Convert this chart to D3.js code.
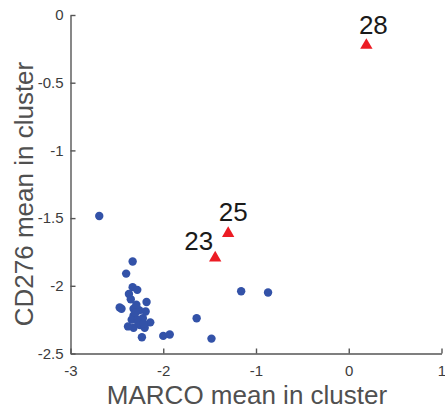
<!DOCTYPE html>
<html>
<head>
<meta charset="utf-8">
<script src="https://cdn.jsdelivr.net/npm/d3@7/dist/d3.min.js"></script>
<style>
  html, body { margin: 0; padding: 0; background: #fff; }
  svg { display: block; font-family: "Liberation Sans", Arial, Helvetica, sans-serif; }
</style>
</head>
<body>
<svg id="chart" width="445" height="410"></svg>
<script>
// Per-cluster mean expression: MARCO (x) vs CD276 (y)
const clusterMarco = [
  -2.69, -2.33, -2.40, -2.33, -2.28, -2.37, -2.35, -2.18, -2.45, -2.47,
  -2.32, -2.26, -2.32, -2.34, -2.22, -2.14, -2.25, -2.32, -2.20, -2.23,
  -2.00, -1.93, -1.64, -1.48, -1.16, -0.87, -2.28, -2.38, -2.19, -2.29,
  -2.27, -2.30, -2.21
];
const clusterCd276 = [
  -1.485, -1.82, -1.91, -2.01, -2.03, -2.06, -2.10, -2.12, -2.17, -2.16,
  -2.17, -2.18, -2.22, -2.25, -2.24, -2.27, -2.29, -2.31, -2.31, -2.38,
  -2.37, -2.36, -2.24, -2.39, -2.04, -2.05, -2.25, -2.30, -2.19, -2.14,
  -2.27, -2.20, -2.28
];

// Highlighted clusters
const highlightIds = ["28", "25", "23"];
const highlightMarco = [0.19, -1.30, -1.44];
const highlightCd276 = [-0.22, -1.61, -1.79];

// Axis ticks
const xTicks = [-3, -2, -1, 0, 1];
const xTickLabels = ["-3", "-2", "-1", "0", "1"];
const yTicks = [0, -0.5, -1, -1.5, -2, -2.5];
const yTickLabels = ["0", "-0.5", "-1", "-1.5", "-2", "-2.5"];

const xTitle = "MARCO mean in cluster";
const yTitle = "CD276 mean in cluster";

// ---- layout ----
const plot = { left: 70.5, right: 441.5, top: 15, bottom: 353.5 };
const axisColor = "#555555";
const tickTextColor = "#3c3c3c";
const titleColor = "#505050";
const dotColor = "#3352a8";
const triColor = "#ec1c24";

const svg = d3.select("#chart");

const x = d3.scaleLinear().domain([-3, 1]).range([plot.left, plot.right]);
const y = d3.scaleLinear().domain([-2.5, 0]).range([plot.bottom, plot.top]);

// x axis (ticks pointing inward)
const xAxis = d3.axisBottom(x)
  .tickValues(xTicks)
  .tickFormat((d, i) => xTickLabels[i])
  .tickSizeInner(-5)
  .tickSizeOuter(0)
  .tickPadding(12);

const gx = svg.append("g")
  .attr("transform", `translate(0,${plot.bottom})`)
  .call(xAxis);

// y axis (ticks pointing inward)
const yAxis = d3.axisLeft(y)
  .tickValues(yTicks)
  .tickFormat((d, i) => yTickLabels[i])
  .tickSizeInner(-5)
  .tickSizeOuter(0)
  .tickPadding(7);

const gy = svg.append("g")
  .attr("transform", `translate(${plot.left},0)`)
  .call(yAxis);

[gx, gy].forEach(g => {
  g.select(".domain").attr("stroke", axisColor).attr("stroke-width", 1.4);
  g.selectAll(".tick line").attr("stroke", axisColor).attr("stroke-width", 1.4);
  g.selectAll(".tick text")
    .attr("fill", tickTextColor)
    .style("font-size", "15px")
    .style("font-family", "'Liberation Sans', Arial, sans-serif");
});

// axis titles
svg.append("text")
  .attr("x", 247)
  .attr("y", 404)
  .attr("text-anchor", "middle")
  .attr("fill", titleColor)
  .style("font-size", "26px")
  .text(xTitle);

svg.append("text")
  .attr("transform", "translate(33,194) rotate(-90)")
  .attr("text-anchor", "middle")
  .attr("fill", titleColor)
  .style("font-size", "26px")
  .text(yTitle);

// cluster points
const points = clusterMarco.map((m, i) => ({ m, c: clusterCd276[i] }));
svg.append("g")
  .selectAll("circle")
  .data(points)
  .join("circle")
  .attr("cx", d => x(d.m))
  .attr("cy", d => y(d.c))
  .attr("r", 4.2)
  .attr("fill", dotColor);

// highlighted clusters as triangles
const highlights = highlightIds.map((id, i) => ({
  id, m: highlightMarco[i], c: highlightCd276[i]
}));

const tri = d3.symbol().type(d3.symbolTriangle).size(66);
svg.append("g")
  .selectAll("path")
  .data(highlights)
  .join("path")
  .attr("transform", d => `translate(${x(d.m)},${y(d.c) + 0.5})`)
  .attr("d", tri)
  .attr("fill", triColor);

// label placement relative to each triangle
const labelPlacement = {
  "28": { dx: 7, dy: -11, anchor: "middle" },
  "25": { dx: 5, dy: -12, anchor: "middle" },
  "23": { dx: -2, dy: -7, anchor: "end" }
};

svg.append("g")
  .selectAll("text")
  .data(highlights)
  .join("text")
  .attr("x", d => x(d.m) + labelPlacement[d.id].dx)
  .attr("y", d => y(d.c) + labelPlacement[d.id].dy)
  .attr("text-anchor", d => labelPlacement[d.id].anchor)
  .attr("fill", "#1a1a1a")
  .style("font-size", "26px")
  .text(d => d.id);
</script>
</body>
</html>
